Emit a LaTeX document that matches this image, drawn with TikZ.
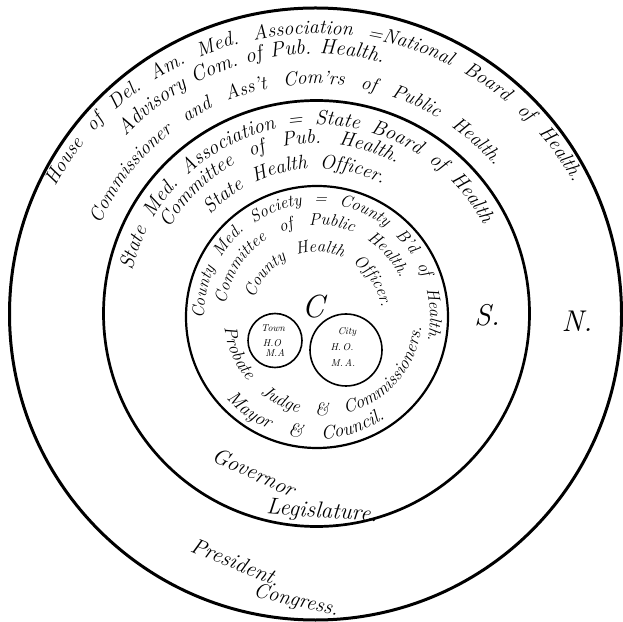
\documentclass[tikz,border=0pt]{standalone}
\usetikzlibrary{decorations.text}
\newcommand{\hand}{\normalfont\itshape}
% center, x radius, y radius, start, end, font size, text
\newcommand{\arctxt}[7]{%
  \path[decorate,decoration={text along path,
    text align={fit to path stretching spaces},
    text={|\hand\fontsize{#6}{#6}\selectfont|#7}}]
    ([shift={(#1)}]#4:#2 and #3) arc[start angle=#4,end angle=#5,x radius=#2,y radius=#3];}
\tikzset{
  ring/.style={draw=black},
  word/.style={inner sep=0pt,font=\hand\fontsize{22}{22}\selectfont},
  small/.style={inner sep=0pt,font=\hand\fontsize{10}{10}\selectfont},
}
\begin{document}
\begin{tikzpicture}[x=1pt,y=1pt]
\useasboundingbox (0,0) rectangle (623,621);
\coordinate (co) at (315.5,307);
\coordinate (cm) at (316.5,307.5);
\coordinate (ci) at (317,304);
\coordinate (cb) at (323,304);
\coordinate (ct) at (275,280.5);
\coordinate (cc) at (346,271);
% circles
\draw[ring,line width=3pt] (co) circle[radius=306];
\draw[ring,line width=2.7pt] (cm) circle[radius=213];
\draw[ring,line width=2.2pt] (ci) circle[radius=131];
\draw[ring,line width=1.6pt] (ct) circle[radius=27];
\draw[ring,line width=1.6pt] (cc) circle[radius=36];
% outer ring
\arctxt{co}{292}{280}{153}{28}{20}{House of Del. Am. Med. Association =National Board of Health.}
\arctxt{co}{260}{260}{137}{75}{21}{Advisory Com. of Pub. Health.}
\arctxt{co}{234}{230}{157}{40}{19.5}{Commissioner and Ass't Com'rs of Public Health.}
% middle ring
\arctxt{cm}{189}{189}{167}{28}{20.5}{State Med. Association = State Board of Health}
\arctxt{cm}{170}{170}{150}{62}{20}{Committee of Pub. Health.}
\arctxt{cm}{145}{145}{137}{63}{20}{State Health Officer.}
% inner circle
\arctxt{ci}{113}{113}{181}{-12}{17}{County Med. Society = County B'd of Health.}
\arctxt{ci}{92}{92}{172}{25}{17}{Committee of Public Health.}
\arctxt{ci}{65}{65}{164}{8}{17}{County Health Officer.}
\arctxt{cb}{99}{99}{186}{354}{18}{Probate Judge {\&} Commissioners.}
\arctxt{ci}{122}{122}{222}{304}{19}{Mayor {\&} Council.}
% single words
\node[word,rotate=-25] (gov) at (254,149) {Governor};
\node[word,font=\hand\fontsize{23}{23}\selectfont,rotate=-4] (leg) at (322,109) {Legislature.};
\node[word,rotate=-22] (pres) at (236,59) {President.};
\node[word,font=\hand\fontsize{21}{21}\selectfont,rotate=-13] (cong) at (296,20) {Congress.};
\node[word,font=\hand\fontsize{32}{32}\selectfont] (C) at (313,314) {C};
\node[word,font=\hand\fontsize{30}{30}\selectfont] (S) at (487,306) {S.};
\node[word,font=\hand\fontsize{30}{30}\selectfont] (N) at (577,300) {N.};
\node[small] (town1) at (273,293) {Town};
\node[small] (town2) at (272,278) {H.O};
\node[small] (town3) at (275,268) {M.A};
\node[small] (city1) at (347,289) {City};
\node[small] (city2) at (342,274) {H.\,O.};
\node[small] (city3) at (343,258) {M.\,A.};
\end{tikzpicture}
\end{document}
